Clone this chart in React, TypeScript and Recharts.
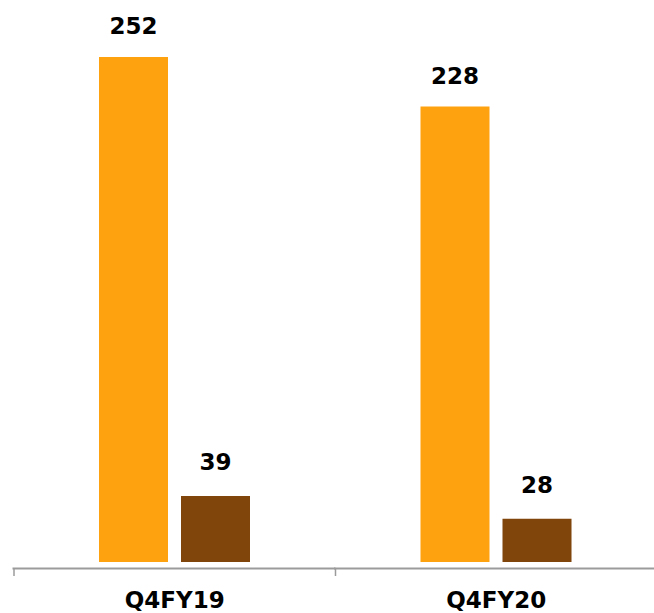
import React from "react";
import { BarChart, Bar, XAxis, YAxis, LabelList } from "recharts";

const categories = ["Q4FY19", "Q4FY20"];
const seriesA = [252, 228];
const seriesB = [39, 28];

const data = categories.map((c, i) => ({ name: c, a: seriesA[i], b: seriesB[i] }));

const CHART_W = 660;
const CHART_H = 613;
const MARGIN = { top: 20, right: 3, bottom: 0, left: 14 };
const BAND = (CHART_W - MARGIN.left - MARGIN.right) / categories.length;
const FONT = "'DejaVu Sans', Verdana, sans-serif";

const CategoryTick = (props: any) => {
  const { x, y, payload } = props;
  const half = BAND / 2;
  return (
    <g>
      <line x1={x - half - 1.5} x2={x + half} y1={y + 6.5} y2={y + 6.5} stroke="#9b9b9b" strokeWidth={2} />
      <line x1={x - half} x2={x - half} y1={y + 6.5} y2={y + 14} stroke="#9b9b9b" strokeWidth={1.5} />
      <text x={x} y={y + 46} textAnchor="middle" fontFamily={FONT} fontWeight="bold" fontSize={23} fill="#000">
        {payload.value}
      </text>
    </g>
  );
};

export default function App() {
  return (
    <div style={{ position: "absolute", left: 0, top: 0, width: 654, height: 613, overflow: "hidden", background: "#fff" }}>
      <BarChart width={CHART_W} height={CHART_H} data={data} margin={MARGIN} barSize={69} barGap={13}>
        <XAxis
          dataKey="name"
          axisLine={false}
          tickLine={false}
          tickSize={0}
          tickMargin={0}
          height={51}
          interval={0}
          tick={<CategoryTick />}
        />
        <YAxis hide domain={[7, 270]} allowDataOverflow type="number" />
        <Bar dataKey="a" fill="#FFA20F" isAnimationActive={false}>
          <LabelList dataKey="a" position="top" offset={23} fontFamily={FONT} fontWeight="bold" fontSize={23} fill="#000" />
        </Bar>
        <Bar dataKey="b" fill="#7F450B" isAnimationActive={false}>
          <LabelList dataKey="b" position="top" offset={26} fontFamily={FONT} fontWeight="bold" fontSize={23} fill="#000" />
        </Bar>
      </BarChart>
    </div>
  );
}
